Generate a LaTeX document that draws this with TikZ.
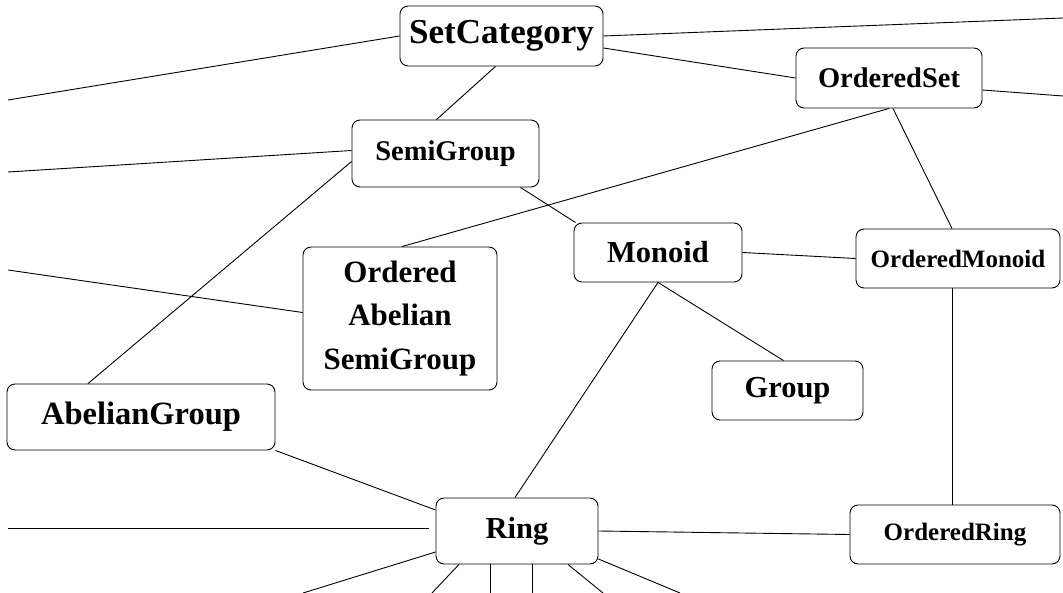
\documentclass[tikz,border=0pt]{standalone}
\usepackage{fontspec}
\setmainfont{Liberation Serif}
\newcommand{\catsize}[1]{\fontsize{#1}{1.4\dimexpr#1pt\relax}\selectfont\bfseries}

\begin{document}
\begin{tikzpicture}[x=1pt, y=-1pt, line width=0.9pt,
    cat/.style={draw, rounded corners=8pt, inner sep=0pt, align=center}]
        \useasboundingbox (0,0) rectangle (1063,593);
        \node[cat, minimum width=203, minimum height=60, font=\catsize{35}] (setcat) at (501.5,36) {SetCategory};
        \node[cat, minimum width=186, minimum height=60, font=\catsize{28.5}] (ordset) at (889,78) {OrderedSet};
        \node[cat, minimum width=187, minimum height=67, font=\catsize{28.5}] (semigrp) at (445.5,153.5) {SemiGroup};
        \node[cat, minimum width=168, minimum height=59, font=\catsize{30.5}] (monoid) at (658,252.5) {Monoid};
        \node[cat, minimum width=204, minimum height=59, font=\catsize{25}] (ordmonoid) at (958,258.5) {OrderedMonoid};
        \node[cat, minimum width=194, minimum height=143, font=\catsize{31}] (ordabsemi) at (400,318.5) {Ordered\\Abelian\\SemiGroup};
        \node[cat, minimum width=151, minimum height=59, font=\catsize{30.5}] (group) at (787.5,390.5) {Group};
        \node[cat, minimum width=268, minimum height=66, font=\catsize{32.5}] (abgroup) at (141,417) {AbelianGroup};
        \node[cat, minimum width=162, minimum height=66, font=\catsize{30.5}] (ring) at (517,531) {Ring};
        \node[cat, minimum width=210, minimum height=59, font=\catsize{25}] (ordring) at (955,534.5) {OrderedRing};
        % loose ends running off the page
        \coordinate (w1) at (8,100);
        \coordinate (w2) at (8,172);
        \coordinate (w3) at (8,270);
        \coordinate (w4) at (8,528);
        \coordinate (e1) at (1063,18);
        \coordinate (e2) at (1063,96);
        \coordinate (s1) at (303,593);
        \coordinate (s2) at (432,593);
        \coordinate (s3) at (490,593);
        \coordinate (s4) at (532,593);
        \coordinate (s5) at (603,593);
        \coordinate (s6) at (680,593);
        \draw (w1) -- (setcat.west);
        \draw (setcat.east) -- (e1);
        \draw ([yshift=-12]setcat.east) -- (ordset.west);
        \draw ([xshift=-6]setcat.south) -- ([xshift=-9]semigrp.north);
        \draw ([yshift=-12]ordset.east) -- (e2);
        \draw (ordset.south) -- ([xshift=2]ordabsemi.north);
        \draw ([xshift=4]ordset.south) -- ([xshift=-6]ordmonoid.north);
        \draw (w2) -- ([yshift=3]semigrp.west);
        \draw ([yshift=-8]semigrp.west) -- ([xshift=-53]abgroup.north);
        \draw ([xshift=75]semigrp.south) -- ([xshift=2]monoid.north west);
        \draw (w3) -- ([yshift=6]ordabsemi.west);
        \draw (monoid.east) -- (ordmonoid.west);
        \draw (monoid.south) -- ([xshift=-2]ring.north);
        \draw (monoid.south) -- ([xshift=-4]group.north);
        \draw ([xshift=-6]ordmonoid.south) -- ([xshift=-3]ordring.north);
        \draw (abgroup.south east) -- ([yshift=21]ring.west);
        \draw (w4) -- ([xshift=-7, yshift=3]ring.west);
        \draw (ring.east) -- (ordring.west);
        \draw ([yshift=-21]ring.west) -- (s1);
        \foreach \dx/\s in {-58/s2, -27/s3, 15/s4, 51/s5}
            \draw ([xshift=\dx]ring.south) -- (\s);
        \draw ([yshift=-28]ring.east) -- (s6);
    \end{tikzpicture}
\end{document}
